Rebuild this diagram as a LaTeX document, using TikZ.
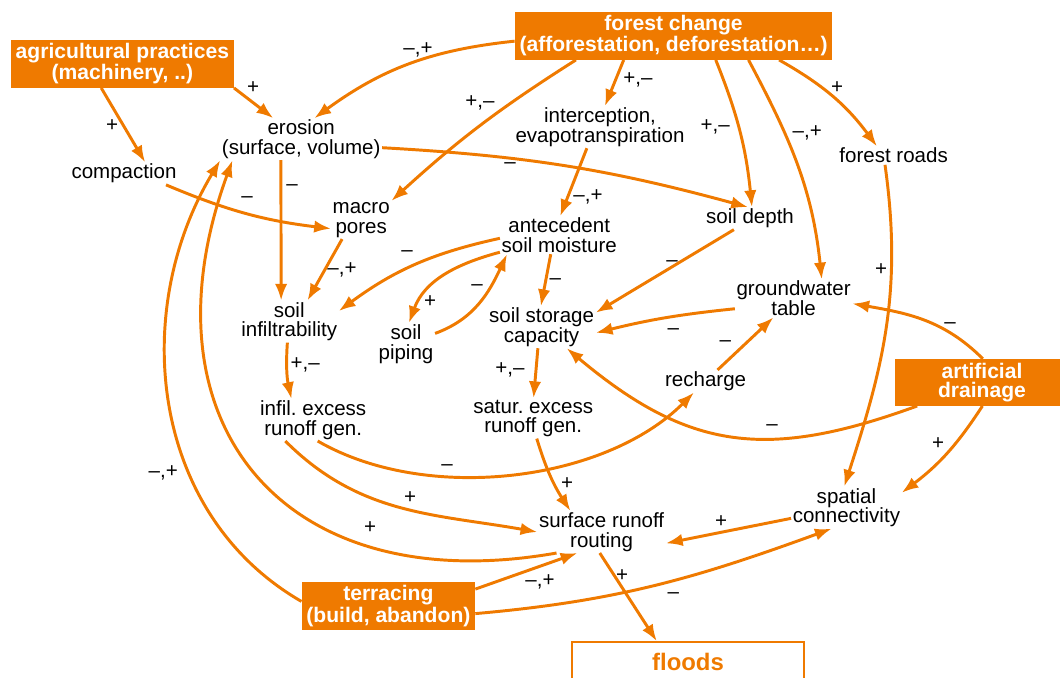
\documentclass[tikz,border=0pt]{standalone}
\usepackage{fontspec}
\setmainfont{Liberation Sans}
\usetikzlibrary{arrows.meta}
\definecolor{fcOrange}{RGB}{239,122,0}

\begin{document}
\begin{tikzpicture}
  [box/.style = {fill=fcOrange, text=white, font=\fontsize{15}{13.9}\selectfont\bfseries, align=center, inner xsep=3.3pt, inner ysep=2.6pt},
   outbox/.style = {draw=fcOrange, line width=1.5pt, text=fcOrange, font=\fontsize{17}{17}\selectfont\bfseries, minimum width=5.8cm, minimum height=1cm},
   item/.style = {font=\fontsize{14.6}{13.9}\selectfont, align=center, inner sep=1pt},
   sign/.style = {font=\fontsize{14.6}{13.9}\selectfont, inner sep=0pt},
   link/.style = {-{Latex[length=0.42cm,width=0.31cm]}, line width=2.1pt, color=fcOrange}]
  \useasboundingbox (0,0) rectangle (26.5,-16.95);
  % Drivers (filled boxes)
  \node[box] (agri) at (3.06,-1.59) {agricultural practices\\(machinery, ..)};
  \node[box] (forest) at (16.84,-0.89) {forest change\\(afforestation, deforestation…)};
  \node[box, minimum width=4.35cm] (drain) at (24.55,-9.56) {artificial\\drainage};
  \node[box] (terr) at (9.71,-15.15) {terracing\\(build, abandon)};
  \node[outbox, anchor=north] (floods) at (17.2,-16.03) {floods};
  % Processes and soil properties
  \node[item] (erosion) at (7.53,-3.48) {erosion\\(surface, volume)};
  \node[item] (compaction) at (3.1,-4.34) {compaction};
  \node[item] (interception) at (15.0,-3.18) {interception,\\evapotranspiration};
  \node[item] (roads) at (22.34,-3.89) {forest roads};
  \node[item] (macro) at (9.03,-5.5) {macro\\pores};
  \node[item] (antecedent) at (13.98,-5.88) {antecedent\\soil moisture};
  \node[item] (depth) at (18.75,-5.46) {soil depth};
  \node[item] (ground) at (19.84,-7.46) {groundwater\\table};
  \node[item] (infiltr) at (7.23,-8.04) {soil\\infiltrability};
  \node[item] (piping) at (10.15,-8.6) {soil\\piping};
  \node[item] (storage) at (13.54,-8.18) {soil storage\\capacity};
  \node[item] (recharge) at (17.64,-9.53) {recharge};
  \node[item] (infilex) at (7.83,-10.5) {infil.\ excess\\runoff gen.};
  \node[item] (satex) at (13.33,-10.46) {satur.\ excess\\runoff gen.};
  \node[item] (conn) at (21.16,-12.69) {spatial\\connectivity};
  \node[item] (runoff) at (15.04,-13.3) {surface runoff\\routing};
  % Signs of the links
  \node[sign] (s-agero) at (6.33,-2.2) {+};
  \node[sign] (s-agcom) at (2.8,-3.15) {+};
  \node[sign] (s-foero) at (10.45,-1.25) {–,+};
  \node[sign] (s-fomac) at (12.0,-2.58) {+,–};
  \node[sign] (s-foint) at (15.95,-2.0) {+,–};
  \node[sign] (s-fodep) at (17.88,-3.18) {+,–};
  \node[sign] (s-fogro) at (20.18,-3.33) {–,+};
  \node[sign] (s-forod) at (20.93,-2.2) {+};
  \node[sign] (s-erdep) at (12.75,-4.13) {–};
  \node[sign] (s-commac) at (6.18,-4.98) {–};
  \node[sign] (s-erinf) at (7.3,-4.68) {–};
  \node[sign] (s-macinf) at (8.55,-6.75) {–,+};
  \node[sign] (s-intant) at (14.7,-4.93) {–,+};
  \node[sign] (s-antinf) at (10.18,-6.33) {–};
  \node[sign] (s-antpip) at (10.75,-7.55) {+};
  \node[sign] (s-pipant) at (11.93,-7.2) {–};
  \node[sign] (s-antsto) at (13.88,-7.05) {–};
  \node[sign] (s-depsto) at (16.8,-6.58) {–};
  \node[sign] (s-grosto) at (16.83,-8.3) {–};
  \node[sign] (s-recgro) at (18.13,-8.58) {–};
  \node[sign] (s-dragro) at (23.75,-8.13) {–};
  \node[sign] (s-drasto) at (19.3,-10.7) {–};
  \node[sign] (s-dracon) at (23.45,-11.1) {+};
  \node[sign] (s-rodcon) at (22.03,-6.73) {+};
  \node[sign] (s-infiex) at (7.63,-9.13) {+,–};
  \node[sign] (s-stosat) at (12.75,-9.25) {+,–};
  \node[sign] (s-iexrec) at (11.18,-11.68) {–};
  \node[sign] (s-iexrun) at (10.25,-12.45) {+};
  \node[sign] (s-satrun) at (14.18,-12.08) {+};
  \node[sign] (s-conrun) at (18.03,-13.05) {+};
  \node[sign] (s-runero) at (9.25,-13.18) {+};
  \node[sign] (s-terrun) at (13.5,-14.55) {–,+};
  \node[sign] (s-tercon) at (16.83,-14.88) {–};
  \node[sign] (s-terero) at (4.08,-11.83) {–,+};
  \node[sign] (s-runflo) at (15.55,-14.38) {+};
  % Links from the drivers
  \path[link] (agri.south east) edge (erosion.143);
  \path[link] (agri.-131) edge (compaction.28);
  \path[link] (forest.182) edge[bend right=15] (erosion.58);
  \path[link] (forest.194) edge[bend right=5] (macro.north east);
  \path[link] (forest.206) edge (interception.77);
  \path[link] (forest.-30) edge[bend left=8] (depth.80);
  \path[link] (forest.-18) edge[out=-62, in=96] (ground.34);
  \path[link] (forest.-13) edge[bend left=12] (roads.151);
  \path[link] (drain.88) edge[out=135, in=-10] (ground.-5);
  \path[link] (drain.200) edge[out=200, in=-40, looseness=1.15] (storage.-40);
  \path[link] (drain.-89) edge[bend left=10] (conn.15);
  \path[link] (terr.177) edge[out=150, in=239] (erosion.south west);
  \path[link] (terr.11) edge (runoff.221);
  \path[link] (terr.-5) edge[out=5, in=200] (conn.235);
  % Links between processes
  \path[link] (erosion.-6) edge[bend left=6] (depth.100);
  \path[link] (compaction.-15) edge[bend right=8] (macro.196);
  \path[link] (erosion.-134) edge (infiltr.111);
  \path[link] (macro.225) edge (infiltr.49);
  \path[link] (interception.238) edge (antecedent.87);
  \path[link] (antecedent.183) edge[bend right=12] (infiltr.12);
  \path[link] (antecedent.196) edge[out=195, in=70] (piping.82);
  \path[link] (piping.20) edge[out=20, in=245] (antecedent.200);
  \path[link] (antecedent.246) edge (storage.92);
  \path[link] (depth.215) edge (storage.15);
  \path[link] (ground.190) edge[bend right=4] (storage.-6);
  \path[link] (recharge) edge (ground);
  \path[link] (roads.-133) edge[out=-82, in=72] (conn.96);
  \path[link] (infiltr.-95) edge[bend right=8] (infilex.136);
  \path[link] (storage.-100) edge (satex.89);
  \path[link] (infilex.-78) edge[out=-30, in=-135, looseness=0.85] (recharge.224);
  \path[link] (infilex.217) edge[out=-45, in=170] (runoff.west);
  \path[link] (satex.-80) edge[bend right=8] (runoff.146);
  \path[link] (conn.191) edge (runoff.-10);
  \path[link] (runoff.205) edge[out=190, in=250, looseness=1.4] (erosion.197);
  \path[link] (runoff.-95) edge (floods.146);
\end{tikzpicture}
\end{document}
